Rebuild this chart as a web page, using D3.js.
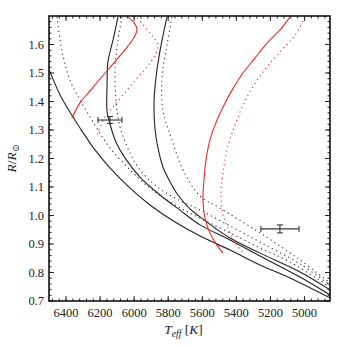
<!DOCTYPE html>
<html>
<head>
<meta charset="utf-8">
<script src="https://cdnjs.cloudflare.com/ajax/libs/d3/7.8.5/d3.min.js"></script>
<style>
  body { margin: 0; background: #fff; }
  text { font-family: "Liberation Serif", "DejaVu Serif", serif; fill: #222; }
</style>
</head>
<body>
<script>
// Radius vs effective temperature: model tracks (black), red tracks, two stars.

var xTicks = [6400, 6200, 6000, 5800, 5600, 5400, 5200, 5000];
var yTicks = [0.7, 0.8, 0.9, 1.0, 1.1, 1.2, 1.3, 1.4, 1.5, 1.6];

// black solid tracks [Teff, R]
var solidA = [[6523, 1.539], [6500, 1.511], [6435, 1.423], [6377, 1.363], [6318, 1.307],
  [6230, 1.230], [6142, 1.167], [6024, 1.096], [5907, 1.037], [5760, 0.977],
  [5613, 0.928], [5437, 0.879], [5261, 0.826], [5085, 0.781], [4850, 0.711]];
var solidB = [[6095, 1.696], [6124, 1.616], [6154, 1.539], [6159, 1.458], [6159, 1.363],
  [6142, 1.321], [6107, 1.258], [6054, 1.202], [5966, 1.135], [5848, 1.072],
  [5731, 1.019], [5613, 0.967], [5437, 0.914], [5261, 0.858], [5026, 0.784], [4850, 0.721]];
var solidC = [[5807, 1.696], [5836, 1.616], [5866, 1.511], [5883, 1.405], [5878, 1.307],
  [5860, 1.237], [5831, 1.170], [5789, 1.118], [5743, 1.072], [5672, 1.023],
  [5613, 0.995], [5525, 0.956], [5437, 0.921], [5261, 0.868], [5026, 0.802], [4850, 0.739]];

// black dotted tracks
var dottedA = [[6453, 1.696], [6435, 1.616], [6412, 1.546], [6377, 1.475], [6318, 1.405],
  [6230, 1.318], [6142, 1.237], [6024, 1.160], [5907, 1.096], [5760, 1.037],
  [5613, 0.991], [5437, 0.939], [5261, 0.886], [5085, 0.837], [4850, 0.749]];
var dottedB = [[6071, 1.696], [6095, 1.616], [6112, 1.521], [6107, 1.405], [6083, 1.311],
  [6024, 1.219], [5966, 1.160], [5878, 1.107], [5760, 1.061], [5613, 1.019],
  [5437, 0.963], [5261, 0.907], [5026, 0.830], [4850, 0.756]];
var dottedC = [[5778, 1.696], [5807, 1.598], [5836, 1.486], [5831, 1.370], [5778, 1.265],
  [5713, 1.160], [5613, 1.068], [5496, 1.026], [5261, 0.939], [5026, 0.844], [4850, 0.763]];

// red tracks
var redSolidA = [[6365, 1.342], [6318, 1.395], [6259, 1.437], [6201, 1.479], [6124, 1.532],
  [6054, 1.581], [6007, 1.619], [5983, 1.651], [5995, 1.672], [6036, 1.696]];
var redDottedA = [[5983, 1.693], [5907, 1.640], [5860, 1.598], [5878, 1.563], [5925, 1.521],
  [5983, 1.482], [6042, 1.440], [6124, 1.381], [6171, 1.346], [6218, 1.282]];
var redSolidB = [[5085, 1.696], [5144, 1.651], [5220, 1.605], [5290, 1.553], [5361, 1.500],
  [5425, 1.440], [5478, 1.381], [5525, 1.318], [5555, 1.265], [5578, 1.195],
  [5590, 1.125], [5596, 1.054], [5584, 0.991], [5555, 0.939], [5514, 0.896], [5478, 0.868]];
var redDottedB = [[4997, 1.696], [5055, 1.633], [5144, 1.574], [5243, 1.504], [5337, 1.416],
  [5408, 1.318], [5455, 1.230], [5478, 1.149], [5490, 1.079], [5478, 1.002],
  [5437, 0.939], [5396, 0.896], [5361, 0.868]];

// observed stars: Teff, R, errors
var starT = [6142, 5144];
var starR = [1.335, 0.953];
var starTErr = [70, 112];
var starRErr = [0.012, 0.014];

var W = 347, H = 347,
    m = {top: 16, right: 17, bottom: 46, left: 49},
    w = W - m.left - m.right,
    h = H - m.top - m.bottom;

var x = d3.scaleLinear().domain([6500, 4850]).range([0, w]);
var y = d3.scaleLinear().domain([0.7, 1.7]).range([h, 0]);

var svg = d3.select("body").append("svg")
    .attr("width", W)
    .attr("height", H)
  .append("g")
    .attr("transform", "translate(" + m.left + "," + m.top + ")");

svg.append("clipPath")
    .attr("id", "clip")
  .append("rect")
    .attr("width", w)
    .attr("height", h);

var line = d3.line()
    .x(function(d) { return x(d[0]); })
    .y(function(d) { return y(d[1]); })
    .curve(d3.curveCatmullRom.alpha(0.5));

var tracks = [
  {d: solidA, c: "#222", dash: null},
  {d: solidB, c: "#222", dash: null},
  {d: solidC, c: "#222", dash: null},
  {d: dottedA, c: "#333", dash: "1.2,3.4"},
  {d: dottedB, c: "#333", dash: "1.2,3.4"},
  {d: dottedC, c: "#333", dash: "1.2,3.4"},
  {d: redSolidA, c: "#ff2020", dash: null},
  {d: redDottedA, c: "#ff2020", dash: "1.2,3.4"},
  {d: redSolidB, c: "#ff2020", dash: null},
  {d: redDottedB, c: "#ff2020", dash: "1.2,3.4"}
];

var plot = svg.append("g").attr("clip-path", "url(#clip)");

plot.selectAll("path.track")
    .data(tracks)
  .enter().append("path")
    .attr("class", "track")
    .attr("d", function(t) { return line(t.d); })
    .attr("fill", "none")
    .attr("stroke", function(t) { return t.c; })
    .attr("stroke-width", 1.1)
    .attr("stroke-dasharray", function(t) { return t.dash; });

// error bars
var stars = d3.range(starT.length);
var eb = plot.selectAll("g.star")
    .data(stars)
  .enter().append("g")
    .attr("class", "star")
    .attr("stroke", "#333")
    .attr("stroke-width", 1.1);

eb.append("line")
    .attr("x1", function(i) { return x(starT[i] + starTErr[i]); })
    .attr("x2", function(i) { return x(starT[i] - starTErr[i]); })
    .attr("y1", function(i) { return y(starR[i]); })
    .attr("y2", function(i) { return y(starR[i]); });
eb.append("line")
    .attr("x1", function(i) { return x(starT[i]); })
    .attr("x2", function(i) { return x(starT[i]); })
    .attr("y1", function(i) { return y(starR[i] + starRErr[i]); })
    .attr("y2", function(i) { return y(starR[i] - starRErr[i]); });
[-1, 1].forEach(function(s) {
  eb.append("line")
      .attr("x1", function(i) { return x(starT[i] + s * starTErr[i]); })
      .attr("x2", function(i) { return x(starT[i] + s * starTErr[i]); })
      .attr("y1", function(i) { return y(starR[i]) - 3; })
      .attr("y2", function(i) { return y(starR[i]) + 3; });
  eb.append("line")
      .attr("x1", function(i) { return x(starT[i]) - 3; })
      .attr("x2", function(i) { return x(starT[i]) + 3; })
      .attr("y1", function(i) { return y(starR[i] + s * starRErr[i]); })
      .attr("y2", function(i) { return y(starR[i] + s * starRErr[i]); });
});

// ticks, inward on all four sides
var xMinor = d3.range(4880, 6500, 40);
var yMinor = d3.range(0, 50).map(function(i) { return 0.7 + i * 0.02; });

function xtickSet(vals, len) {
  var g = svg.append("g").attr("stroke", "#222").attr("stroke-width", 1);
  vals.forEach(function(v) {
    g.append("line").attr("x1", x(v)).attr("x2", x(v)).attr("y1", h).attr("y2", h - len);
    g.append("line").attr("x1", x(v)).attr("x2", x(v)).attr("y1", 0).attr("y2", len);
  });
}
function ytickSet(vals, len) {
  var g = svg.append("g").attr("stroke", "#222").attr("stroke-width", 1);
  vals.forEach(function(v) {
    g.append("line").attr("x1", 0).attr("x2", len).attr("y1", y(v)).attr("y2", y(v));
    g.append("line").attr("x1", w).attr("x2", w - len).attr("y1", y(v)).attr("y2", y(v));
  });
}
xtickSet(xMinor, 2.5);
xtickSet(xTicks, 5);
ytickSet(yMinor, 2.5);
ytickSet(yTicks, 5);

svg.append("rect")
    .attr("width", w)
    .attr("height", h)
    .attr("fill", "none")
    .attr("stroke", "#111")
    .attr("stroke-width", 1.6);

svg.selectAll("text.xt")
    .data(xTicks)
  .enter().append("text")
    .attr("class", "xt")
    .attr("x", function(d) { return x(d); })
    .attr("y", h + 16)
    .attr("text-anchor", "middle")
    .style("font-size", "12.5px")
    .text(function(d) { return d; });

svg.selectAll("text.yt")
    .data(yTicks)
  .enter().append("text")
    .attr("class", "yt")
    .attr("x", -5)
    .attr("y", function(d) { return y(d); })
    .attr("dy", "0.35em")
    .attr("text-anchor", "end")
    .style("font-size", "12.5px")
    .text(function(d) { return d.toFixed(1); });

var xl = svg.append("text")
    .attr("x", w / 2 - 6)
    .attr("y", h + 33)
    .attr("text-anchor", "middle")
    .style("font-size", "13.5px");
xl.append("tspan").style("font-style", "italic").text("T");
xl.append("tspan").style("font-style", "italic").style("font-size", "9.5px").attr("dy", 3).text("eff");
xl.append("tspan").attr("dy", -3).text(" [");
xl.append("tspan").style("font-style", "italic").text("K");
xl.append("tspan").text("]");

var yl = svg.append("text")
    .attr("transform", "translate(" + (-33) + "," + (h / 2) + ")rotate(-90)")
    .attr("text-anchor", "middle")
    .style("font-size", "13.5px");
yl.append("tspan").style("font-style", "italic").text("R");
yl.append("tspan").text("/");
yl.append("tspan").style("font-style", "italic").text("R");
yl.append("tspan").style("font-size", "9.5px").attr("dy", 3).text("\u2299");
</script>
</body>
</html>
